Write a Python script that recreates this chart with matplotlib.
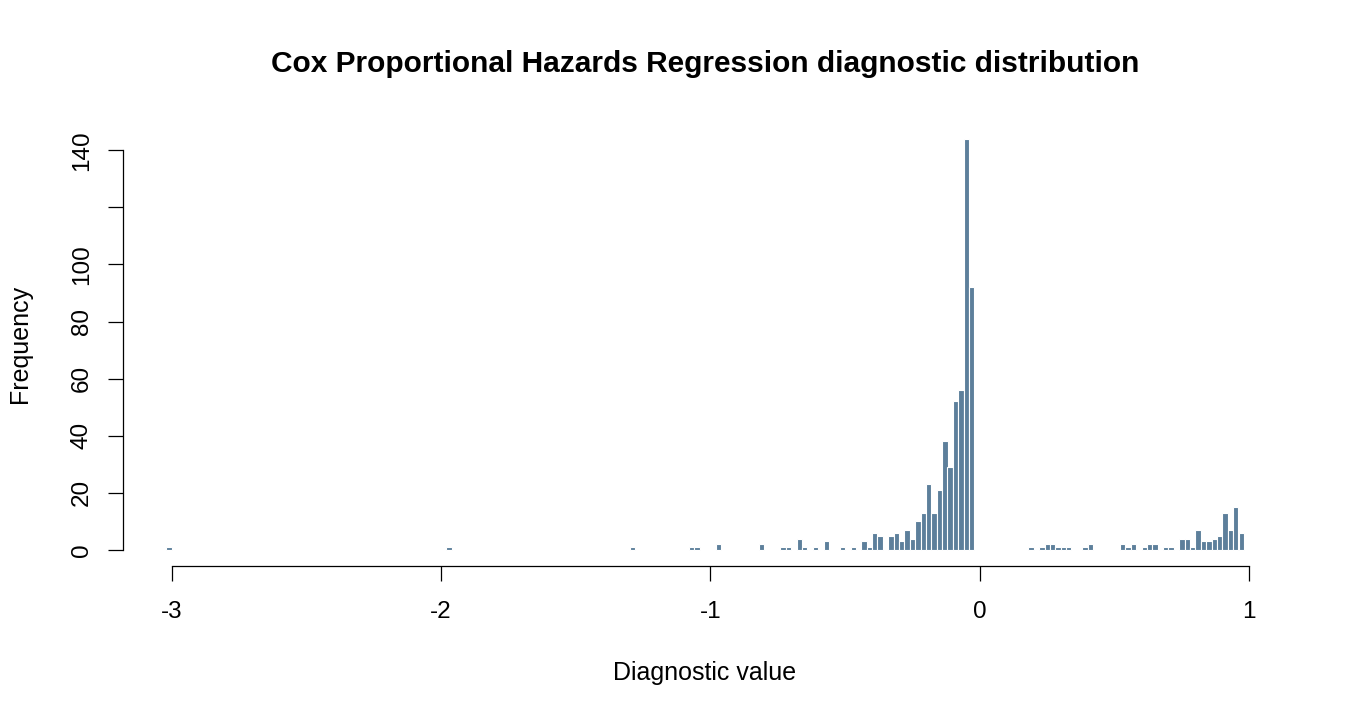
import matplotlib
matplotlib.use("Agg")
import matplotlib.pyplot as plt

# left edge of each non-empty bin (bin width 0.02) and its count
bin_left = [-3.02, -1.98, -1.30, -1.08, -1.06, -0.98, -0.82, -0.74, -0.72, -0.68,
            -0.66, -0.62, -0.58, -0.52, -0.48, -0.44, -0.42, -0.40, -0.38, -0.34,
            -0.32, -0.30, -0.28, -0.26, -0.24, -0.22, -0.20, -0.18, -0.16, -0.14,
            -0.12, -0.10, -0.08, -0.06, -0.04,
            0.18, 0.22, 0.24, 0.26, 0.28, 0.30, 0.32, 0.38, 0.40, 0.52,
            0.54, 0.56, 0.60, 0.62, 0.64, 0.68, 0.70, 0.74, 0.76, 0.78,
            0.80, 0.82, 0.84, 0.86, 0.88, 0.90, 0.92, 0.94, 0.96]
counts = [1, 1, 1, 1, 1, 2, 2, 1, 1, 4,
          1, 1, 3, 1, 1, 3, 1, 6, 5, 5,
          6, 3, 7, 4, 10, 13, 23, 13, 21, 38,
          29, 52, 56, 144, 92,
          1, 1, 2, 2, 1, 1, 1, 1, 2, 2,
          1, 2, 1, 2, 2, 1, 1, 4, 4, 1,
          7, 3, 3, 4, 5, 13, 7, 15, 6]
bin_width = 0.02

x_ticks = [-3, -2, -1, 0, 1]
y_ticks = [0, 20, 40, 60, 80, 100, 120, 140]
y_labels = ["0", "20", "40", "60", "80", "100", "", "140"]

plt.rcParams['font.family'] = ['Liberation Sans', 'DejaVu Sans']

W, H = 1350, 720
fig = plt.figure(figsize=(W / 100, H / 100), dpi=100)
# plot region in pixels (R style, 4% padding around data)
left, right, top, bottom = 123, 1287, 122.4, 566.4
ax = fig.add_axes([left / W, 1 - bottom / H, (right - left) / W, (bottom - top) / H])

ax.bar(bin_left, counts, width=bin_width, align='edge',
       color='#5D7F9B', edgecolor='white', linewidth=0.8)

ax.set_xlim(-3.18, 1.14)
ax.set_ylim(-5.76, 149.76)

for s in ['top', 'right']:
    ax.spines[s].set_visible(False)
ax.spines['left'].set_bounds(0, 140)
ax.spines['bottom'].set_bounds(-3, 1)
for s in ['left', 'bottom']:
    ax.spines[s].set_linewidth(0.9)

ax.set_xticks(x_ticks)
ax.set_xticklabels([str(v) for v in x_ticks])
ax.set_yticks(y_ticks)
ax.set_yticklabels(y_labels, rotation=90, va='center')
ax.tick_params(axis='both', length=10.8, width=0.9, labelsize=17.5)
ax.tick_params(axis='x', pad=14)
ax.tick_params(axis='y', pad=11)

fig.text(705 / W, 1 - 64 / H, "Cox Proportional Hazards Regression diagnostic distribution",
         ha='center', va='center', fontsize=21.5, fontweight='bold')
fig.text(705 / W, 1 - 673 / H, "Diagnostic value", ha='center', va='center', fontsize=18)
fig.text(20 / W, 1 - 344 / H, "Frequency", ha='center', va='center', fontsize=18, rotation=90)

fig.savefig("out.png", dpi=100)
